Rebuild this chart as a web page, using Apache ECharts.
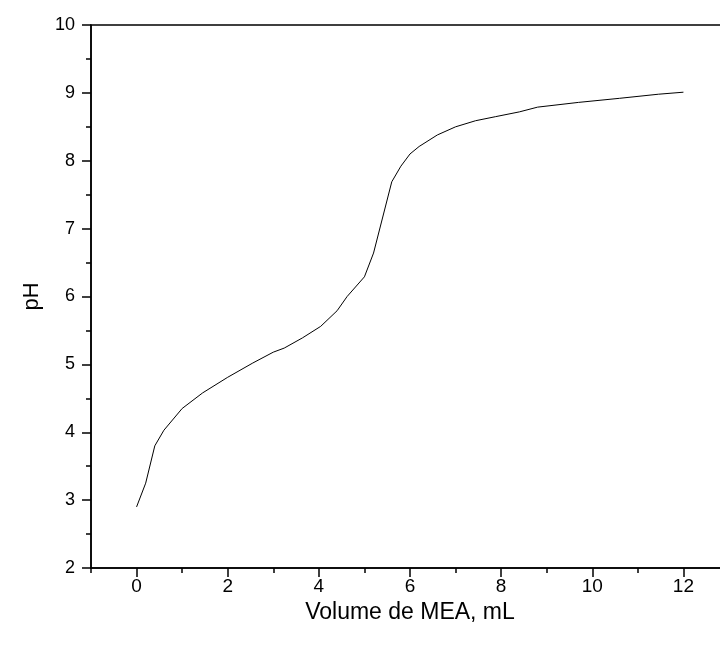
<!DOCTYPE html>
<html>
<head>
<meta charset="utf-8">
<script src="https://cdn.jsdelivr.net/npm/echarts@6/dist/echarts.min.js"></script>
<style>html,body{margin:0;padding:0;background:#fff}#c{width:720px;height:650px}</style>
</head>
<body>
<div id="c"></div>
<script>
const volume = [0, 0.2, 0.4, 0.6, 1.0, 1.45, 2.0, 2.55, 3.0, 3.24, 3.64, 4.04, 4.4, 4.62, 5.0, 5.2, 5.6, 5.8, 6.0, 6.2, 6.6, 7.0, 7.44, 7.88, 8.4, 8.8, 9.7, 10.6, 11.45, 12.0];
const pH =     [2.9, 3.25, 3.8, 4.03, 4.35, 4.58, 4.81, 5.02, 5.18, 5.24, 5.39, 5.56, 5.79, 6.0, 6.29, 6.64, 7.69, 7.92, 8.1, 8.21, 8.38, 8.5, 8.59, 8.65, 8.72, 8.79, 8.86, 8.92, 8.98, 9.01];
const xMajorTicks = [0, 2, 4, 6, 8, 10, 12];
const xMinorTicks = [-1, 1, 3, 5, 7, 9, 11, 13];
const xTitle = 'Volume de MEA, mL';
const yTitle = 'pH';

const font = 'Liberation Sans, Arial, sans-serif';
const chart = echarts.init(document.getElementById('c'), null, {renderer: 'canvas'});
chart.setOption({
  animation: false,
  backgroundColor: '#fff',
  grid: {left: 91, top: 25, width: 638, height: 543, containLabel: false, outerBoundsMode: 'none',
         show: true, borderColor: '#000', borderWidth: 1.5},
  xAxis: [{
    type: 'value', min: -1, max: 13, interval: 1,
    name: xTitle, nameLocation: 'middle', nameGap: 29,
    nameTextStyle: {fontFamily: font, fontSize: 23, color: '#000', verticalAlign: 'top'},
    axisLine: {show: true, onZero: false, lineStyle: {color: '#000', width: 1.5}},
    axisTick: {show: true, length: 9, customValues: xMajorTicks, lineStyle: {color: '#000', width: 1.5}},
    axisLabel: {customValues: xMajorTicks, fontFamily: font, fontSize: 19, color: '#000', margin: 9},
    splitLine: {show: false}
  }, {
    type: 'value', min: -1, max: 13, interval: 1, position: 'bottom',
    axisLine: {show: false},
    axisTick: {show: true, length: 5, customValues: xMinorTicks, lineStyle: {color: '#000', width: 1.5}},
    axisLabel: {show: false},
    splitLine: {show: false}
  }],
  yAxis: {
    type: 'value', min: 2, max: 10, interval: 1,
    name: yTitle, nameLocation: 'middle', nameGap: 48,
    nameTextStyle: {fontFamily: font, fontSize: 22, color: '#000'},
    axisLine: {show: true, onZero: false, lineStyle: {color: '#000', width: 1.5}},
    axisTick: {show: true, length: 9, lineStyle: {color: '#000', width: 1.5}},
    minorTick: {show: true, splitNumber: 2, length: 5, lineStyle: {color: '#000', width: 1.5}},
    axisLabel: {fontFamily: font, fontSize: 18, color: '#000', margin: 16},
    splitLine: {show: false}
  },
  series: [{
    type: 'line',
    data: volume.map((v, i) => [v, pH[i]]),
    showSymbol: false,
    lineStyle: {color: '#000', width: 1},
    smooth: false
  }]
});
</script>
</body>
</html>
